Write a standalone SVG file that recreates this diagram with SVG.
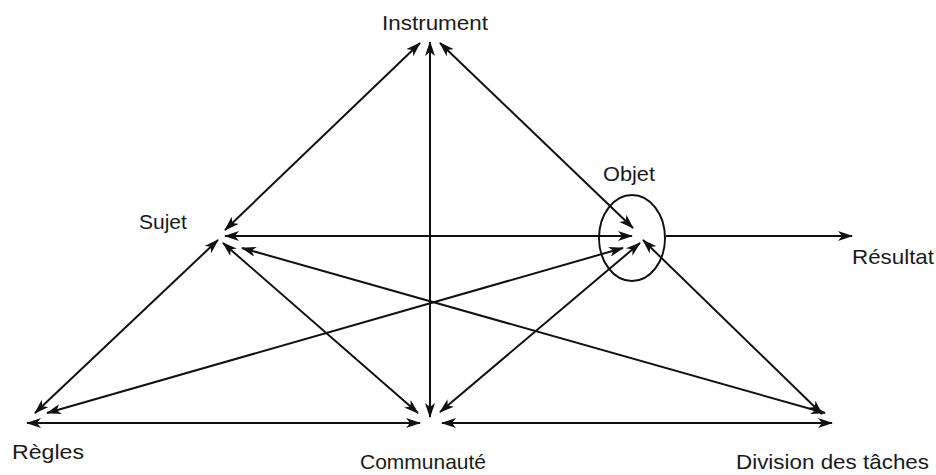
<svg xmlns="http://www.w3.org/2000/svg" width="936" height="475" viewBox="0 0 936 475">
<style>
.lbl{font-family:"Liberation Sans",Arial,sans-serif;font-size:21px;fill:#1a1a1a}
.ln{stroke:#111;stroke-width:2;fill:none;marker-start:url(#ah);marker-end:url(#ah)}
.one{stroke:#111;stroke-width:2;fill:none;marker-end:url(#ah)}
</style>
<defs>
<marker id="ah" viewBox="0 0 15 10" refX="14" refY="5" markerWidth="15" markerHeight="10" markerUnits="userSpaceOnUse" orient="auto-start-reverse">
<path d="M0,0 L15,5 L0,10 L4,5 z" fill="#111"/>
</marker>
</defs>
<rect width="936" height="475" fill="#fff"/>
<g id="connectors">
<line class="ln" x1="420" y1="43" x2="225" y2="230"/>
<line class="ln" x1="430" y1="42" x2="430" y2="417"/>
<line class="ln" x1="440" y1="43" x2="633" y2="228"/>
<line class="ln" x1="225" y1="236" x2="632" y2="236"/>
<line class="ln" x1="218" y1="240" x2="35" y2="413"/>
<line class="ln" x1="223" y1="243" x2="418" y2="413"/>
<line class="ln" x1="242" y1="248" x2="825" y2="413"/>
<line class="ln" x1="47" y1="413" x2="623" y2="248"/>
<line class="ln" x1="440" y1="412" x2="640" y2="243"/>
<line class="ln" x1="643" y1="240" x2="822" y2="414"/>
<line class="ln" x1="27" y1="423" x2="420" y2="423"/>
<line class="ln" x1="442" y1="423" x2="832" y2="423"/>
<line class="one" x1="666" y1="236" x2="852" y2="236"/>
</g>
<g id="instrument"><text class="lbl" x="435" y="30" text-anchor="middle" textLength="106" lengthAdjust="spacingAndGlyphs">Instrument</text></g>
<g id="sujet"><text class="lbl" x="139" y="229">Sujet</text></g>
<g id="objet">
<ellipse cx="632" cy="238" rx="33" ry="43" fill="none" stroke="#111" stroke-width="2"/>
<text class="lbl" x="603" y="181" textLength="52" lengthAdjust="spacingAndGlyphs">Objet</text>
</g>
<g id="resultat"><text class="lbl" x="852" y="264" textLength="82" lengthAdjust="spacingAndGlyphs">Résultat</text></g>
<g id="regles"><text class="lbl" x="12" y="459" textLength="72" lengthAdjust="spacingAndGlyphs">Règles</text></g>
<g id="communaute"><text class="lbl" x="360" y="469" textLength="126" lengthAdjust="spacingAndGlyphs">Communauté</text></g>
<g id="division"><text class="lbl" x="736" y="469" textLength="193" lengthAdjust="spacingAndGlyphs">Division des tâches</text></g>
</svg>
